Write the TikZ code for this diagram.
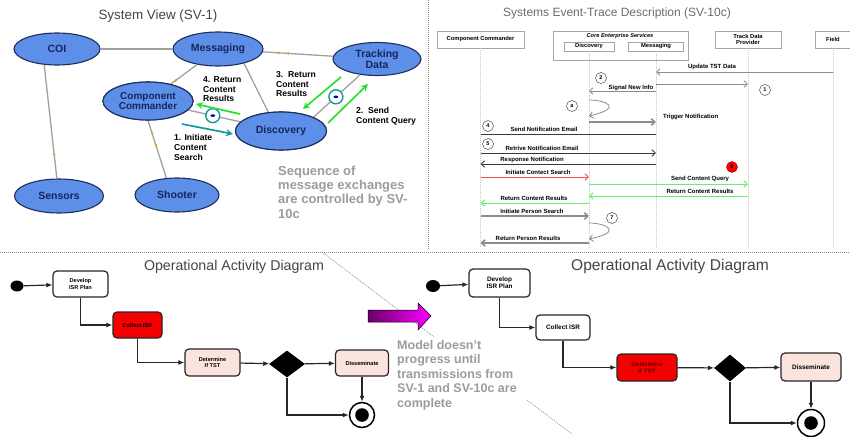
\documentclass[tikz,border=0pt]{standalone}
\usepackage{fontspec}
\setmainfont{Liberation Sans}
\usetikzlibrary{shapes.geometric,arrows.meta,calc}
\definecolor{ellfill}{HTML}{5E8FE8}
\definecolor{elldraw}{HTML}{1E2E5E}
\definecolor{elltext}{HTML}{15265E}
\definecolor{linkgray}{HTML}{A0A0A0}
\definecolor{msgreen}{HTML}{2EE02E}
\definecolor{tealc}{HTML}{139A9A}
\definecolor{orangemk}{HTML}{F2A22A}
\definecolor{notegray}{HTML}{9C9C9C}
\definecolor{titlegray}{HTML}{454545}
\definecolor{pinkbox}{HTML}{FBE3DE}
\definecolor{redbox}{HTML}{F50000}
\definecolor{sepgray}{HTML}{8A8A8A}
\definecolor{darkpurple}{RGB}{105,0,105}
\definecolor{msggray}{HTML}{8C8C8C}
\definecolor{msgdark}{HTML}{3A3A3A}
\definecolor{msgred}{HTML}{FF4A4A}
\definecolor{msggreen}{HTML}{66F266}
\begin{document}
\begin{tikzpicture}[x=1pt,y=-1pt,
  sepline/.style={draw=sepgray, line width=0.8pt, dash pattern=on 0.8pt off 1.2pt},
  svell/.style={ellipse, draw=elldraw, line width=1.1pt, fill=ellfill, text=elltext,
    font=\bfseries\fontsize{10.5}{11}\selectfont, inner sep=0pt, align=center},
  svlink/.style={draw=linkgray, line width=1.3pt},
  omark/.style={circle, fill=orangemk, minimum size=3pt, inner sep=0pt},
  tealring/.style={circle, draw=tealc, line width=1.4pt, fill=white, minimum size=14pt, inner sep=0pt,
    path picture={\fill[blue!75!black] (path picture bounding box.center) ellipse (2.4pt and 1.3pt);}},
  greenarr/.style={draw=msgreen, line width=1.7pt, -{Stealth[length=7pt,width=7pt]}},
  tealarr/.style={draw=tealc, line width=1.7pt, -{Stealth[length=7pt,width=7pt]}},
  lbl/.style={font=\bfseries\fontsize{8.6}{9.6}\selectfont, align=left, anchor=north west, inner sep=0pt},
  note/.style={text=notegray, font=\bfseries\fontsize{13}{14.2}\selectfont, align=left, anchor=north west, inner sep=0pt},
  ttl/.style={text=titlegray, inner sep=0pt},
  hdr/.style={draw=gray!70, line width=0.6pt, fill=white, font=\bfseries\fontsize{5.8}{6.4}\selectfont, inner sep=0pt, align=center},
  lifeline/.style={draw=gray!45, line width=0.9pt, dash pattern=on 1pt off 1pt},
  tip/.style={-{Straight Barb[length=3.5pt,width=6.5pt]}},
  mgray/.style={draw=msggray, line width=0.8pt, tip},
  mthick/.style={draw=msggray, line width=1.6pt, tip},
  mdark/.style={draw=msgdark, line width=0.9pt, tip},
  mred/.style={draw=msgred, line width=0.9pt, tip},
  mgreen/.style={draw=msggreen, line width=1pt, tip},
  mlbl/.style={font=\bfseries\fontsize{6}{6}\selectfont, inner sep=0pt},
  numc/.style={circle, draw=black!70, line width=0.5pt, fill=white, minimum size=11pt, inner sep=0pt,
    font=\bfseries\fontsize{5.5}{6}\selectfont},
  act/.style={draw=black!85, line width=1.2pt, rounded corners=4pt, fill=white, inner sep=0pt,
    align=center, font=\bfseries\fontsize{5.6}{6.2}\selectfont},
  actR/.style={act, font=\bfseries\fontsize{6.4}{7}\selectfont},
  startdot/.style={ellipse, fill=black, minimum width=13pt, minimum height=11pt, inner sep=0pt},
  finalnode/.style={circle, draw=black, line width=1.5pt, fill=white, minimum size=25pt, inner sep=0pt,
    path picture={\fill[black] (path picture bounding box.center) circle (6.8pt);}},
  decis/.style={diamond, fill=black, inner sep=0pt},
  flow/.style={draw=black!85, line width=1.2pt, -{Latex[length=6pt,width=5pt]}}
]
\useasboundingbox[fill=white] (0,0) rectangle (850,436);

% ---------- separators ----------
\coordinate (sepA) at (428,0);
\coordinate (sepB) at (428,250);
\coordinate (sepC) at (0,252);
\coordinate (sepD) at (850,252);
\draw[sepline] (sepA) -- (sepB);
\draw[sepline] (sepC) -- (sepD);
\coordinate (diaA) at (322,252);
\coordinate (diaB) at (434,337);
\coordinate (diaC) at (527,400);
\coordinate (diaD) at (572,434);
\draw[sepline] (diaA) -- (diaB);
\draw[sepline] (diaC) -- (diaD);

% ---------- SV-1 ----------
\node[ttl, font=\fontsize{13.4}{15}\selectfont] (t_sv1) at (158,16) {System View (SV-1)};

\node[svell, minimum width=86pt, minimum height=32pt] (coi) at (57,49) {COI};
\node[svell, minimum width=90pt, minimum height=34pt] (msg) at (218,49) {Messaging};
\node[svell, minimum width=88pt, minimum height=33pt] (trk) at (377,59) {Tracking\\Data};
\node[svell, minimum width=90pt, minimum height=38pt, font=\bfseries\fontsize{10}{10.5}\selectfont] (cc) at (148,101) {Component\\Commander};
\node[svell, minimum width=91pt, minimum height=38pt] (disc) at (281,131) {Discovery};
\node[svell, minimum width=89pt, minimum height=34pt] (sen) at (59,196) {Sensors};
\node[svell, minimum width=84pt, minimum height=34pt] (sho) at (177,195) {Shooter};

\begin{scope}[on background layer/.try]
\end{scope}
\draw[svlink] (coi) -- (msg);
\draw[svlink] (coi.-129) -- (sen.97) node[omark, pos=0.79] (om1) {};
\draw[svlink] (msg) -- (cc) node[omark, pos=0.82] (om2) {};
\draw[svlink] (msg.-29) -- (disc.124);
\draw[svlink] (msg) -- (trk) node[omark, pos=0.22] (om3) {} node[omark, pos=0.36] (om4) {};
\draw[svlink] (disc.23) -- (trk.-137) node[tealring, pos=0.48] (ring2) {};
\draw[svlink] (cc) -- (disc) node[tealring, pos=0.47] (ring1) {};
\draw[svlink] (cc.-90) -- (sho.122) node[omark, pos=0.22] (om5) {} node[omark, pos=0.43] (om6) {};
% redraw ellipses on top of links
\node[svell, minimum width=90pt, minimum height=38pt, font=\bfseries\fontsize{10}{10.5}\selectfont] (cc2) at (cc) {Component\\Commander};
\node[svell, minimum width=91pt, minimum height=38pt] (disc2) at (disc) {Discovery};

\coordinate (g4s) at (240,114); \coordinate (g4e) at (196,104);
\coordinate (t1s) at (182,124); \coordinate (t1e) at (233,134);
\coordinate (g3s) at (341,77);  \coordinate (g3e) at (303,109);
\coordinate (g2s) at (328,123); \coordinate (g2e) at (368,84);
\draw[greenarr] (g4s) -- (g4e);
\draw[tealarr] (t1s) -- (t1e);
\draw[greenarr] (g3s) -- (g3e);
\draw[greenarr] (g2s) -- (g2e);

\node[lbl] (l4) at (203,76.5) {4. Return\\Content\\Results};
\node[lbl] (l3) at (276,71.5) {3.\ \ Return\\Content\\Results};
\node[lbl] (l2) at (356,107.5) {2.\ \ Send\\Content Query};
\node[lbl] (l1) at (174,134.5) {1. Initiate\\Content\\Search};
\node[note] (n1) at (278,165.8) {Sequence of\\message exchanges\\are controlled by SV-\\10c};

% ---------- SV-10c ----------
\node[ttl, font=\fontsize{12}{14}\selectfont, text=gray!85!black] (t_sv10) at (617,13) {Systems Event-Trace Description (SV-10c)};

\node[hdr, minimum width=87pt, minimum height=17pt] (hcc) at (480.5,39.5) {Component Commander};
\node[hdr, minimum width=135pt, minimum height=29pt] (hces) at (620.5,45.5) {};
\node[mlbl, font=\bfseries\itshape\fontsize{5.6}{6}\selectfont] (tces) at (620,36) {Core Enterprise Services};
\node[hdr, minimum width=50pt, minimum height=9pt] (hdisc) at (589,46.5) {Discovery};
\node[hdr, minimum width=55pt, minimum height=9pt] (hmsg) at (656,46.5) {Messaging};
\node[hdr, minimum width=66pt, minimum height=17pt] (htdp) at (748,39.5) {Track Data\\Provider};
\node[hdr, minimum width=36pt, minimum height=17pt] (hfld) at (833,39.5) {Field};

\coordinate (ecc) at (hcc |- 0,248);
\coordinate (edisc) at (hdisc |- 0,248);
\coordinate (emsg) at (hmsg |- 0,248);
\coordinate (etdp) at (htdp |- 0,248);
\coordinate (efld) at (hfld |- 0,248);
\draw[lifeline] (hcc) -- (ecc);
\draw[lifeline] (hdisc.south) -- (edisc);
\draw[lifeline] (hmsg.south) -- (emsg);
\draw[lifeline] (htdp) -- (etdp);
\draw[lifeline] (hfld) -- (efld);

\draw[mgray] (hfld |- 0,72) -- (hmsg |- 0,72);
\node[mlbl] (m1) at (712,67) {Update TST Data};
\draw[mgray] (hmsg |- 0,84) -- (htdp |- 0,84);
\draw[mgray] (hmsg |- 0,91) -- (hdisc |- 0,91);
\node[mlbl] (m2) at (631,87.5) {Signal New Info};
\draw[mgray] (hdisc |- 0,100) .. controls (606,100) and (624,108) .. (hdisc |- 0,116);
\draw[mthick] (hdisc |- 0,122) -- (hmsg |- 0,122);
\node[mlbl, anchor=west] (m3) at (663,117) {Trigger Notification};
\draw[draw=msgdark, line width=0.9pt] (hcc |- 0,134) -- (hmsg |- 0,134);
\node[mlbl] (m4) at (544,129.5) {Send Notification Email};
\draw[mdark] (hcc |- 0,153) -- (hmsg |- 0,153);
\node[mlbl] (m5) at (542,148.5) {Retrive Notification Email};
\draw[mdark] (hmsg |- 0,164) -- (hcc |- 0,164);
\node[mlbl] (m6) at (532,159.5) {Response Notification};
\draw[mred] (hcc |- 0,177) -- (hdisc |- 0,177);
\node[mlbl] (m7) at (538,172) {Initiate Contect Search};
\draw[mgreen] (hdisc |- 0,184) -- (htdp |- 0,184);
\node[mlbl] (m8) at (700,179) {Send Content Query};
\draw[mgreen] (htdp |- 0,196) -- (hdisc |- 0,196);
\node[mlbl] (m9) at (700,191) {Return Content Results};
\draw[mgreen] (hdisc |- 0,203) -- (hcc |- 0,203);
\node[mlbl] (m10) at (534,198) {Return Content Results};
\draw[mthick] (hcc |- 0,216) -- (hdisc |- 0,216);
\node[mlbl] (m11) at (532,211) {Initiate Person Search};
\draw[mgray] (hdisc |- 0,223) .. controls (606,223) and (624,232) .. (hdisc |- 0,239);
\draw[mthick] (hdisc |- 0,243) -- (hcc |- 0,243);
\node[mlbl] (m12) at (528,238.5) {Return Person Results};

\node[numc] (c1) at (765,90) {1};
\node[numc] (c2) at (601,78) {2};
\node[numc] (ca) at (572,106) {a};
\node[numc] (c4) at (488,126) {4};
\node[numc] (c5) at (488,144) {5};
\node[numc, fill=red, draw=red!70!black] (c6) at (732,167) {6};
\node[numc] (c7) at (612,218) {7};

% ---------- Operational Activity Diagram (left) ----------
\node[ttl, font=\fontsize{14.2}{16}\selectfont] (t_oa1) at (234,267) {Operational Activity Diagram};
\node[startdot] (s1) at (17,286) {};
\node[act, minimum width=55pt, minimum height=26pt] (d1) at (80.5,284) {Develop\\ISR Plan};
\node[act, fill=redbox, minimum width=49pt, minimum height=26pt] (k1c) at (137.5,325) {Collect ISR};
\node[act, fill=pinkbox, minimum width=55pt, minimum height=27pt] (x1) at (212.5,362.5) {Determine\\If TST};
\node[decis, minimum width=36pt, minimum height=27pt] (q1) at (287,364) {};
\node[act, fill=pinkbox, minimum width=53pt, minimum height=26pt] (e1) at (362,363) {Disseminate};
\node[finalnode] (f1) at (362,415) {};
\draw[flow] (s1) -- (d1);
\draw[flow] (d1.south) |- (k1c.west);
\draw[flow] (k1c.south) |- (x1.west);
\draw[flow] (x1) -- (q1);
\draw[flow] (q1) -- (e1);
\draw[flow] (e1.south) -- (f1.north);
\draw[flow] (q1.south) |- (f1.west);

% ---------- magenta arrow and note ----------
\shade[left color=darkpurple, right color=magenta, draw=black, line width=0.5pt]
  (368,310) -- (418,310) -- (418,303) -- (431,316) -- (418,330) -- (418,322) -- (368,322) -- cycle;
\node[note, font=\bfseries\fontsize{12.5}{14.5}\selectfont] (n2) at (397,340) {Model doesn’t\\progress until\\transmissions from\\SV-1 and SV-10c are\\complete};

% ---------- Operational Activity Diagram (right) ----------
\node[ttl, font=\fontsize{15.6}{17}\selectfont] (t_oa2) at (670,266) {Operational Activity Diagram};
\node[startdot, minimum width=14pt, minimum height=12pt] (s2) at (433,286) {};
\node[actR, minimum width=61pt, minimum height=28pt] (d2) at (499.5,283) {Develop\\ISR Plan};
\node[actR, minimum width=54pt, minimum height=25pt] (k2c) at (563,327.5) {Collect ISR};
\node[actR, fill=redbox, text=red!40!black, minimum width=60pt, minimum height=27pt] (x2) at (647,367.5) {Determine\\If TST};
\node[decis, minimum width=32pt, minimum height=27pt] (q2) at (730,368) {};
\node[actR, fill=pinkbox, minimum width=60pt, minimum height=28pt] (e2) at (811,367) {Disseminate};
\node[finalnode, minimum size=27pt] (f2) at (811,423) {};
\draw[flow] (s2) -- (d2);
\draw[flow] (d2.south) |- (k2c.west);
\draw[flow] (k2c.south) |- (x2.west);
\draw[flow] (x2) -- (q2);
\draw[flow] (q2) -- (e2);
\draw[flow] (e2.south) -- (f2.north);
\draw[flow] (q2.south) |- (f2.west);
\end{tikzpicture}
\end{document}
